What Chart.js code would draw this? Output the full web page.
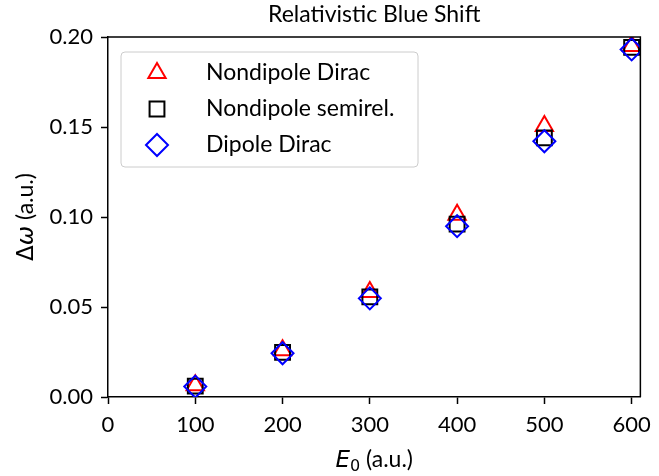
<!DOCTYPE html>
<html>
<head>
<meta charset="utf-8">
<script src="https://cdn.jsdelivr.net/npm/chart.js@4.4.1/dist/chart.umd.min.js"></script>
<style>
  html, body { margin: 0; padding: 0; background: #fff; }
  #wrap { width: 659px; height: 476px; }
</style>
</head>
<body>
<div id="wrap"><canvas id="blueShift" width="659" height="476"></canvas></div>
<script>
// field strengths E0 (a.u.)
const energies = [100, 200, 300, 400, 500, 600];
// blue shift values
const nondipoleDirac   = [0.0065, 0.0260, 0.0583, 0.1012, 0.1505, 0.1950];
const nondipoleSemirel = [0.0060, 0.0248, 0.0556, 0.0960, 0.1440, 0.1942];
const dipoleDirac      = [0.0058, 0.0243, 0.0548, 0.0949, 0.1421, 0.1931];

const xTicks = [0, 100, 200, 300, 400, 500, 600];
const yTicks = [0.00, 0.05, 0.10, 0.15, 0.20];

const titleText = 'Relativistic Blue Shift';
const seriesNames = ['Nondipole Dirac', 'Nondipole semirel.', 'Dipole Dirac'];

const FONT = 'Lato, "Open Sans", sans-serif';
const MATH = '"DejaVu Sans", sans-serif';

function toPoints(ys) {
    return energies.map((e, i) => ({ x: e, y: ys[i] }));
}

// top/right spines, title, axis labels and the boxed legend
const decorations = {
    id: 'decorations',
    afterDraw(chart) {
        const ctx = chart.ctx;
        const a = chart.chartArea;
        ctx.save();

        ctx.strokeStyle = '#000';
        ctx.lineWidth = 1.5;
        ctx.beginPath();
        ctx.moveTo(a.left, a.top);
        ctx.lineTo(a.right, a.top);
        ctx.lineTo(a.right, a.bottom);
        ctx.stroke();

        // title
        ctx.fillStyle = '#000';
        ctx.font = '23px ' + FONT;
        ctx.textAlign = 'center';
        ctx.textBaseline = 'alphabetic';
        ctx.fillText(titleText, (a.left + a.right) / 2, 22);

        // x label: E_0 (a.u.)
        ctx.textAlign = 'left';
        const xParts = [
            { t: 'E', f: 'italic 23px ' + MATH, dy: 0 },
            { t: '0', f: '16px ' + MATH, dy: 4 },
            { t: ' (a.u.)', f: '23px ' + FONT, dy: 0 }
        ];
        let w = 0;
        xParts.forEach(p => { ctx.font = p.f; w += ctx.measureText(p.t).width; });
        let x = (a.left + a.right) / 2 - w / 2;
        xParts.forEach(p => {
            ctx.font = p.f;
            ctx.fillText(p.t, x, 467 + p.dy);
            x += ctx.measureText(p.t).width;
        });

        // y label: Δω (a.u.)
        const yParts = [
            { t: 'Δ', f: '23px ' + MATH },
            { t: 'ω', f: 'italic 23px ' + MATH },
            { t: ' (a.u.)', f: '23px ' + FONT }
        ];
        w = 0;
        yParts.forEach(p => { ctx.font = p.f; w += ctx.measureText(p.t).width; });
        ctx.save();
        ctx.translate(33, (a.top + a.bottom) / 2);
        ctx.rotate(-Math.PI / 2);
        x = -w / 2;
        yParts.forEach(p => {
            ctx.font = p.f;
            ctx.fillText(p.t, x, 0);
            x += ctx.measureText(p.t).width;
        });
        ctx.restore();

        // legend
        const lx = 121, ly = 52, lw = 297, lh = 115;
        ctx.beginPath();
        ctx.roundRect(lx, ly, lw, lh, 4);
        ctx.fillStyle = 'rgba(255,255,255,0.8)';
        ctx.fill();
        ctx.strokeStyle = '#cccccc';
        ctx.lineWidth = 1;
        ctx.stroke();

        const rows = [73, 109, 145];
        chart.data.datasets.forEach((ds, i) => {
            ctx.fillStyle = 'rgba(0,0,0,0)';
            ctx.strokeStyle = ds.borderColor;
            ctx.lineWidth = ds.borderWidth;
            Chart.helpers.drawPoint(ctx, {
                pointStyle: ds.pointStyle,
                radius: ds.pointRadius,
                borderWidth: ds.borderWidth,
                rotation: 0
            }, 157, rows[i]);
            ctx.fillStyle = '#000';
            ctx.font = '23px ' + FONT;
            ctx.textAlign = 'left';
            ctx.textBaseline = 'middle';
            ctx.fillText(ds.label, 206, rows[i]);
        });

        ctx.restore();
    }
};

function makeDataset(label, values, style, color, radius, order) {
    return {
        label: label,
        data: toPoints(values),
        pointStyle: style,
        pointRadius: radius,
        pointHoverRadius: radius,
        borderColor: color,
        pointBorderColor: color,
        backgroundColor: 'transparent',
        pointBackgroundColor: 'transparent',
        borderWidth: 2,
        pointBorderWidth: 2,
        showLine: false,
        order: order
    };
}

window.onload = function () {
    const ctx = document.getElementById('blueShift').getContext('2d');

    new Chart(ctx, {
        type: 'scatter',
        data: {
            datasets: [
                makeDataset(seriesNames[0], nondipoleDirac, 'triangle', '#ff0000', 10, 3),
                makeDataset(seriesNames[1], nondipoleSemirel, 'rect', '#000000', 10.5, 2),
                makeDataset(seriesNames[2], dipoleDirac, 'rectRot', '#0000ff', 11, 1)
            ]
        },
        options: {
            responsive: false,
            animation: false,
            events: [],
            layout: { padding: { top: 37, right: 11, left: 0, bottom: 0 } },
            plugins: {
                legend: { display: false },
                title: { display: false },
                tooltip: { enabled: false }
            },
            scales: {
                x: {
                    type: 'linear',
                    min: 0,
                    max: 610,
                    afterBuildTicks: scale => { scale.ticks = xTicks.map(v => ({ value: v })); },
                    afterFit: scale => { scale.height = 79; },
                    border: { display: true, color: '#000', width: 1.5 },
                    grid: { drawOnChartArea: false, drawTicks: true, tickLength: 7, tickColor: '#000', tickWidth: 1.5 },
                    ticks: {
                        color: '#000',
                        padding: 8,
                        maxRotation: 0,
                        font: { family: FONT, size: 22 },
                        callback: v => String(v)
                    }
                },
                y: {
                    type: 'linear',
                    min: 0,
                    max: 0.2,
                    afterBuildTicks: scale => { scale.ticks = yTicks.map(v => ({ value: v })); },
                    afterFit: scale => { scale.width = 108; },
                    border: { display: true, color: '#000', width: 1.5 },
                    grid: { drawOnChartArea: false, drawTicks: true, tickLength: 7, tickColor: '#000', tickWidth: 1.5 },
                    ticks: {
                        color: '#000',
                        padding: 8,
                        font: { family: FONT, size: 22 },
                        callback: v => v.toFixed(2)
                    }
                }
            }
        },
        plugins: [decorations]
    });
};
</script>
</body>
</html>
